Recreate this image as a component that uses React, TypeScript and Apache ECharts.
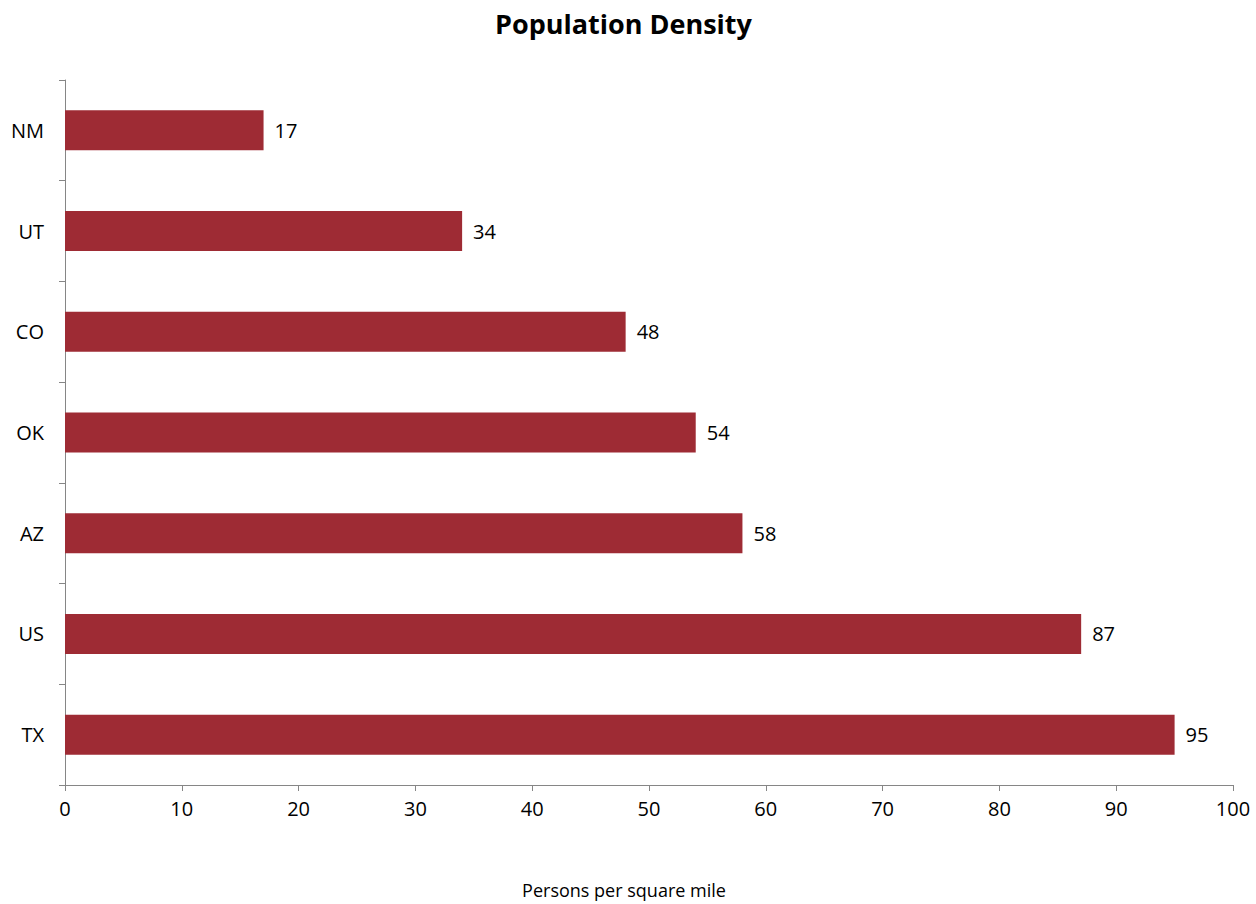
import React, { useEffect, useRef } from "react";
import * as echarts from "echarts";

const categories = ["TX", "US", "AZ", "OK", "CO", "UT", "NM"];
const values = [95, 87, 58, 54, 48, 34, 17];
const titleText = "Population Density";
const xAxisName = "Persons per square mile";

export default function App() {
  const ref = useRef<HTMLDivElement>(null);
  useEffect(() => {
    const chart = echarts.init(ref.current!, null, { renderer: "svg" });
    const font = "'Open Sans', 'Noto Sans', sans-serif";
    chart.setOption({
      animation: false,
      backgroundColor: "#ffffff",
      title: {
        text: titleText,
        left: 490,
        top: 5,
        textStyle: { fontFamily: font, fontWeight: "bold", fontSize: 27, color: "#000" },
      },
      grid: { left: 65, right: 23, top: 80, bottom: 117, containLabel: false },
      xAxis: {
        type: "value",
        min: 0,
        max: 100,
        interval: 10,
        name: xAxisName,
        nameLocation: "middle",
        nameGap: 96,
        nameTextStyle: { fontFamily: font, fontSize: 18, color: "#000", padding: [0, 50, 0, 0] },
        axisLine: { show: true, lineStyle: { color: "#868686", width: 1 } },
        axisTick: { show: true, length: 6, lineStyle: { color: "#868686" } },
        axisLabel: { fontFamily: font, fontSize: 20, color: "#000", margin: 13 },
        splitLine: { show: false },
      },
      yAxis: {
        type: "category",
        data: categories,
        axisLine: { show: true, lineStyle: { color: "#868686", width: 1 } },
        axisTick: { show: true, length: 6, lineStyle: { color: "#868686" } },
        axisLabel: { fontFamily: font, fontSize: 20, color: "#000", margin: 21 },
      },
      series: [
        {
          type: "bar",
          data: values,
          barWidth: 40,
          itemStyle: { color: "#9E2B34" },
          label: {
            show: true,
            position: "right",
            distance: 11,
            fontFamily: font,
            fontSize: 20,
            color: "#000",
          },
        },
      ],
    });
    return () => chart.dispose();
  }, []);
  return (
    <div
      ref={ref}
      style={{ position: "fixed", left: 0, top: 0, width: 1256, height: 904, background: "#fff" }}
    />
  );
}
